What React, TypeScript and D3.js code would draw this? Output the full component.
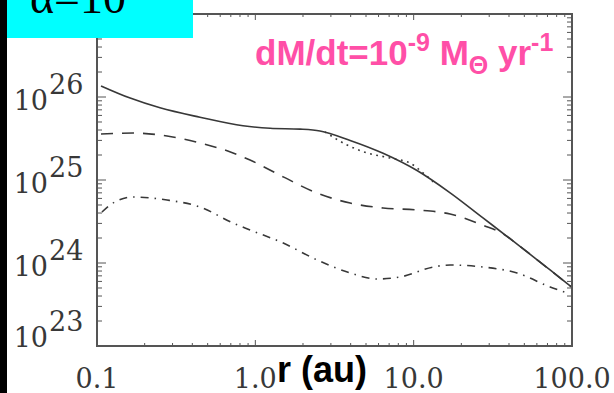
import React from "react";
import * as d3 from "d3";

// curves: r in au, value on the log axis
const solidR = [0.106, 0.162, 0.25, 0.447, 0.836, 1.24, 1.92, 2.56, 3.97, 6.41, 10.5, 17.0, 27.4, 45.0, 72.7, 100];
const solidV = [1.36e26, 9.7e25, 7.4e25, 5.7e25, 4.5e25, 4.2e25, 4.1e25, 3.9e25, 3.0e25, 2.1e25, 1.3e25, 7.0e24, 3.49e24, 1.69e24, 8.24e23, 5.1e23];

const dottedR = [2.75, 3.8, 5.08, 7.1, 9.49, 11.5, 13.3];
const dottedV = [3.8e25, 2.64e25, 2.12e25, 1.84e25, 1.6e25, 1.21e25, 9.5e24];

const dashedR = [0.106, 0.169, 0.277, 0.447, 0.723, 0.926, 1.5, 2.45, 3.97, 6.41, 10.5, 17.0, 27.4, 37.8, 45.0, 72.7, 100];
const dashedV = [3.58e25, 3.68e25, 3.39e25, 2.79e25, 2.12e25, 1.74e25, 1.09e25, 6.97e24, 5.28e24, 4.6e24, 4.36e24, 3.89e24, 2.85e24, 2.17e24, 1.69e24, 8.24e23, 5.1e23];

const dashDotR = [0.1075, 0.121, 0.169, 0.277, 0.447, 0.723, 0.926, 1.5, 2.45, 3.97, 5.87, 8.21, 13.3, 17.0, 27.4, 45.0, 72.7, 93.1];
const dashDotV = [4.11e24, 5.0e24, 6.24e24, 5.74e24, 4.73e24, 3.03e24, 2.5e24, 1.74e24, 1.09e24, 7.58e23, 6.42e23, 6.78e23, 8.95e23, 9.46e23, 8.95e23, 7.58e23, 5.14e23, 4.36e23];

const xTickValues = [0.1, 1, 10, 100];
const xTickLabels = ["0.1", "1.0", "10.0", "100.0"];
const yTickValues = [1e26, 1e25, 1e24, 1e23];
const yTickExps = ["26", "25", "24", "23"];

const W = 614;
const H = 393;
const left = 97, right = 572, top = 14, bottom = 346;

export default function App() {
  const x = d3.scaleLog().domain([0.1, 100]).range([left, right]);
  const y = d3.scaleLog().domain([1e23, 1e27]).range([bottom, top]);

  const line = d3
    .line<[number, number]>()
    .x((d) => x(d[0]))
    .y((d) => y(d[1]))
    .curve(d3.curveMonotoneX);

  const pairs = (rs: number[], vs: number[]) => rs.map((r, i) => [r, vs[i]] as [number, number]);

  const isMajor = (v: number) => Math.abs(Math.log10(v) - Math.round(Math.log10(v))) < 1e-6;
  const xt = x.ticks();
  const yt = y.ticks();

  const ink = "#383838";

  return (
    <svg width={W} height={H} style={{ position: "fixed", left: 0, top: 0, background: "#fff" }}>
      <rect x={0} y={0} width={W} height={H} fill="#fff" />

      {/* curves */}
      <g fill="none" stroke={ink} strokeWidth={1.6}>
        <path d={line(pairs(solidR, solidV)) || ""} />
        <path d={line(pairs(dottedR, dottedV)) || ""} strokeDasharray="1.8 4.5" />
        <path d={line(pairs(dashedR, dashedV)) || ""} strokeDasharray="12 9" />
        <path d={line(pairs(dashDotR, dashDotV)) || ""} strokeDasharray="8 6 1.5 6" />
      </g>

      {/* frame and ticks */}
      <g stroke="#555" strokeWidth={1}>
        {yt.map((t, i) => {
          const len = isMajor(t) ? 9 : 5;
          return (
            <g key={"y" + i}>
              <line x1={left} x2={left + len} y1={y(t)} y2={y(t)} />
              <line x1={right} x2={right - len} y1={y(t)} y2={y(t)} />
            </g>
          );
        })}
        {xt.map((t, i) => {
          const len = isMajor(t) ? 6 : 3;
          return (
            <g key={"x" + i}>
              <line x1={x(t)} x2={x(t)} y1={bottom} y2={bottom - len} />
              <line x1={x(t)} x2={x(t)} y1={top} y2={top + len} />
            </g>
          );
        })}
      </g>
      <rect x={left} y={top} width={right - left} height={bottom - top} fill="none" stroke="#555" strokeWidth={2} />

      {/* y tick labels */}
      <g fill={ink} fontFamily="DejaVu Serif" fontSize={27}>
        {yTickValues.map((v, i) => {
          const shift = i === yTickValues.length - 1 ? -12 : 0;
          return (
            <g key={"yl" + i}>
              <text x={48} y={y(v) + 13 + shift} textAnchor="end">10</text>
              <text x={49} y={y(v) - 3 + shift}>{yTickExps[i]}</text>
            </g>
          );
        })}
      </g>

      {/* x tick labels */}
      <g fill={ink} fontFamily="DejaVu Serif" fontSize={27} textAnchor="middle">
        {xTickValues.map((v, i) => (
          <text key={"xl" + i} x={x(v)} y={388}>{xTickLabels[i]}</text>
        ))}
      </g>

      <text x={277} y={382} fontFamily="Liberation Sans, Arial, sans-serif" fontWeight="bold" fontSize={36} fill="#000">r (au)</text>

      <text x={255} y={65} fontFamily="Liberation Sans, Arial, sans-serif" fontWeight="bold" fontSize={35} fill="#ff4fa7">
        dM/dt=10
        <tspan fontSize={25} dy={-14}>-9</tspan>
        <tspan dy={14}> M</tspan>
        <tspan fontSize={25} dy={9}>Θ</tspan>
        <tspan dy={-9}> yr</tspan>
        <tspan fontSize={25} dy={-14}>-1</tspan>
      </text>

      {/* label box and left edge */}
      <rect x={7} y={0} width={186} height={38} fill="#00ffff" />
      <text x={30} y={13} fontFamily="Liberation Serif, serif" fontSize={46} fill="#000">α=10</text>
      <rect x={0} y={0} width={7} height={H} fill="#000" />
    </svg>
  );
}
